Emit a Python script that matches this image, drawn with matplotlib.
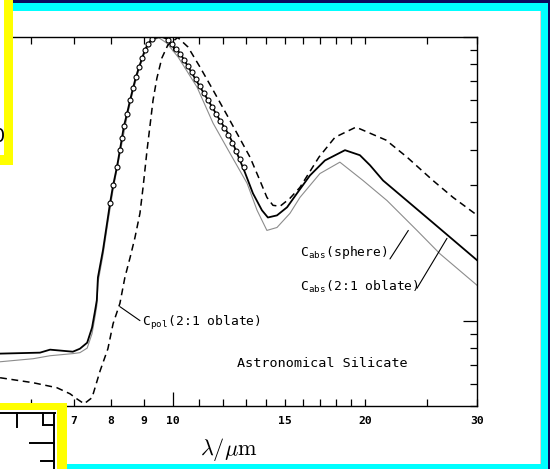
import matplotlib
matplotlib.use('Agg')
import matplotlib.pyplot as plt
from matplotlib.patches import Rectangle
from matplotlib.lines import Line2D

plt.rcParams['mathtext.fontset'] = 'cm'

# C_abs(sphere), solid
sphere_wl = [5.36, 6.19, 6.42, 6.97, 7.15, 7.34, 7.47, 7.55, 7.60, 7.63, 7.77, 7.91, 7.97,
             8.06, 8.17, 8.26, 8.38, 8.47, 8.57, 8.66, 8.75, 8.85, 8.95, 9.04, 9.14, 9.27,
             9.45, 9.62, 9.80, 9.95, 10.26, 10.64, 11.03, 11.43, 11.85, 12.20, 12.42, 12.97,
             13.35, 13.79, 14.09, 14.56, 15.10, 15.65, 16.40, 17.31, 18.61, 19.64, 20.37,
             21.35, 25.29, 30.0]
sphere_val = [0.765, 0.771, 0.790, 0.777, 0.796, 0.836, 0.945, 1.08, 1.18, 1.42, 1.77, 2.31,
              2.59, 3.00, 3.47, 3.99, 4.85, 5.34, 5.99, 6.60, 7.22, 7.83, 8.43, 9.00, 9.45,
              9.84, 9.97, 10.0, 9.85, 9.37, 8.78, 7.65, 6.67, 5.84, 5.09, 4.58, 4.22, 3.33,
              2.81, 2.45, 2.31, 2.35, 2.51, 2.81, 3.25, 3.67, 3.99, 3.83, 3.53, 3.12, 2.26, 1.63]

# C_abs(2:1 oblate), thin grey
oblate_wl = [5.36, 6.04, 6.42, 6.97, 7.15, 7.34, 7.47, 7.55, 7.60, 7.63, 7.77, 7.91, 8.06,
             8.26, 8.47, 8.66, 8.85, 9.04, 9.27, 9.50, 9.78, 10.19, 10.91, 11.56, 12.29,
             13.07, 13.55, 14.04, 14.56, 15.26, 15.82, 17.0, 18.27, 19.86, 21.66, 24.13,
             26.22, 30.0]
oblate_val = [0.716, 0.734, 0.752, 0.765, 0.771, 0.80, 0.90, 1.03, 1.13, 1.36, 1.70, 2.22,
              2.90, 3.87, 5.20, 6.45, 7.70, 8.85, 9.70, 9.95, 9.52, 8.50, 6.66, 4.97, 3.89,
              3.05, 2.45, 2.08, 2.13, 2.39, 2.72, 3.30, 3.62, 3.12, 2.65, 2.08, 1.72, 1.33]

# C_pol(2:1 oblate), dashed
pol_wl = [5.36, 6.04, 6.58, 6.90, 7.07, 7.26, 7.47, 7.69, 7.91, 8.06, 8.26, 8.41, 8.57,
          8.72, 8.88, 8.98, 9.11, 9.21, 9.31, 9.44, 9.61, 9.82, 10.18, 10.56, 11.03, 11.56,
          12.16, 12.60, 13.21, 13.69, 14.04, 14.35, 14.72, 15.26, 15.82, 16.94, 17.95,
          19.36, 21.58, 23.28, 25.56, 27.48, 30.0]
pol_val = [0.629, 0.604, 0.580, 0.552, 0.530, 0.509, 0.535, 0.665, 0.796, 0.976, 1.15, 1.42,
           1.67, 1.96, 2.39, 2.95, 3.99, 4.89, 5.99, 7.16, 8.43, 9.37, 9.96, 9.22, 7.83,
           6.50, 5.30, 4.58, 3.77, 3.12, 2.72, 2.55, 2.53, 2.70, 2.95, 3.77, 4.43, 4.81,
           4.33, 3.77, 3.12, 2.72, 2.35]

# observed points (open circles)
obs_wl = [7.97, 8.06, 8.17, 8.26, 8.32, 8.38, 8.47, 8.57, 8.66, 8.75, 8.85, 8.95, 9.04, 9.14,
          9.27, 9.82, 9.97, 10.11, 10.26, 10.41, 10.56, 10.71, 10.87, 11.03, 11.19, 11.35,
          11.52, 11.69, 11.85, 12.03, 12.20, 12.38, 12.56, 12.74, 12.92]
obs_val = [2.59, 3.00, 3.47, 3.99, 4.40, 4.85, 5.34, 5.99, 6.60, 7.22, 7.83, 8.43, 9.00, 9.45,
           9.84, 9.76, 9.45, 9.07, 8.71, 8.29, 7.90, 7.52, 7.11, 6.71, 6.34, 5.99, 5.66,
           5.34, 5.05, 4.77, 4.50, 4.22, 3.96, 3.71, 3.47]

xminor = [6, 7, 8, 9, 11, 12, 13, 14, 15, 16, 17, 18, 19, 20, 25, 30]
xminor_labels = ['6', '7', '8', '9', '', '', '', '', '15', '', '', '', '', '20', '', '30']

W, H = 550, 469
MONO = 'DejaVu Sans Mono'


def fx(x):
    return x / W


def fy(y):
    return 1 - y / H


def block(fig, x0, y0, x1, y1, color, z):
    fig.add_artist(Rectangle((fx(x0), fy(y1)), fx(x1) - fx(x0), fy(y0) - fy(y1),
                             transform=fig.transFigure, facecolor=color,
                             edgecolor='none', zorder=z))


fig = plt.figure(figsize=(5.5, 4.69), dpi=100, facecolor='#0b0b5e')

# slide frame
block(fig, -20, 3, 548, 490, '#00ffff', -5)
block(fig, -20, 11, 539.5, 464, 'white', -4)
block(fig, 539.5, 11, 540.5, 464, '#efc9c9', -4)

ax = fig.add_axes([fx(-19.2), fy(406), (477.3 + 19.2) / W, (406 - 37) / H])
ax.set_xscale('log')
ax.set_yscale('log')
ax.set_xlim(5, 30)
ax.set_ylim(0.5, 10)

ax.plot(oblate_wl, oblate_val, color='#8c8c8c', lw=0.8)
ax.plot(sphere_wl, sphere_val, color='black', lw=1.3)
ax.plot(pol_wl, pol_val, color='black', lw=1.1, dashes=(4.5, 3))
ax.plot(obs_wl, obs_val, ls='none', marker='o', ms=3.6, mfc='white', mec='black', mew=0.8)

ax.set_xticks([10])
ax.set_xticklabels(['10'])
ax.set_xticks(xminor, minor=True)
ax.set_xticklabels(xminor_labels, minor=True)
ax.tick_params(which='both', direction='in', top=True, right=True, width=0.9,
               labelleft=False, pad=7)
ax.tick_params(which='major', length=10)
ax.tick_params(which='minor', length=5)
for lab in ax.get_xticklabels(which='both'):
    lab.set_fontfamily(MONO)
    lab.set_fontsize(8.2)
    lab.set_fontweight('bold')
for sp in ax.spines.values():
    sp.set_linewidth(1.0)

tk = dict(family=MONO, fontsize=9.4, va='center')
ax.text(8.95, 0.98, r'C$_{\mathregular{pol}}$(2:1 oblate)', **tk)
ax.text(12.6, 0.705, 'Astronomical Silicate', family=MONO, fontsize=9.7, va='center')
ax.text(15.82, 1.74, r'C$_{\mathregular{abs}}$(sphere)', **tk)
ax.text(15.82, 1.31, r'C$_{\mathregular{abs}}$(2:1 oblate)', **tk)

lead = dict(arrowstyle='-', lw=0.8, color='black', shrinkA=0, shrinkB=0)
ax.annotate('', xy=(8.26, 1.12), xytext=(8.88, 1.0), arrowprops=lead)
ax.annotate('', xy=(23.39, 2.08), xytext=(21.89, 1.65), arrowprops=lead)
ax.annotate('', xy=(26.89, 1.95), xytext=(24.13, 1.30), arrowprops=lead)

fig.text(fx(229), fy(449), r'$\lambda/\mu\mathrm{m}$', fontsize=16, ha='center', va='center')

# yellow boxes over the left side of the slide
block(fig, -20, -20, 12.7, 165, '#ffff00', 5)
block(fig, -20, -20, 4, 155, 'white', 6)
fig.text(fx(4.5), fy(137), '0', fontsize=14, ha='right', va='center', zorder=7)

block(fig, -20, 403.3, 66.7, 490, '#ffff00', 5)
block(fig, -20, 410, 56.7, 490, 'white', 6)
segs = [((0, 412.7), (55, 412.7)), ((54.3, 412.7), (54.3, 480)),
        ((17.3, 412.7), (17.3, 426.7)), ((43.3, 412.7), (43.3, 425)),
        ((43.3, 425), (54.3, 425)), ((30, 443.3), (54.3, 443.3)),
        ((40.7, 461), (54.3, 461))]
for (x0, y0), (x1, y1) in segs:
    fig.add_artist(Line2D([fx(x0), fx(x1)], [fy(y0), fy(y1)], transform=fig.transFigure,
                          color='black', lw=1.4, zorder=7))

fig.savefig('out.png', dpi=100, facecolor=fig.get_facecolor())
